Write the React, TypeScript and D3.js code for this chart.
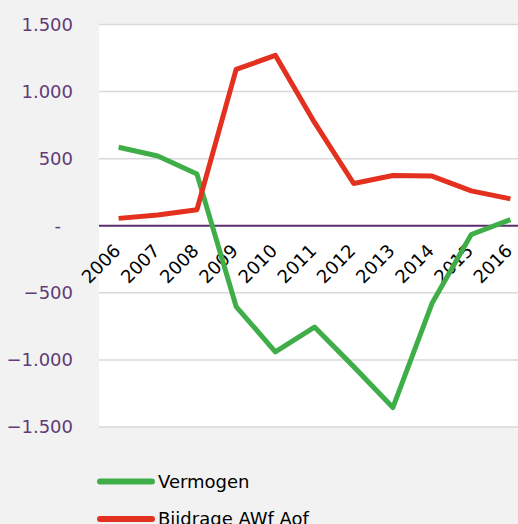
import * as d3 from 'd3';

const years = ['2006', '2007', '2008', '2009', '2010', '2011', '2012', '2013', '2014', '2015', '2016'];
const vermogen = [585, 520, 385, -602, -940, -755, -1050, -1355, -578, -65, 45];
const bijdrage = [55, 80, 120, 1165, 1270, 770, 315, 375, 370, 260, 200];
const yTicks = [-1500, -1000, -500, 0, 500, 1000, 1500];
const seriesNames = ['Vermogen', 'Bijdrage AWf Aof'];
const seriesColors = ['#3fae49', '#e3301f'];

const W = 518;
const H = 524;
const plotLeft = 99;
const plotRight = 530;
const plotTop = 24.5;
const plotBottom = 427;
const font = "'DejaVu Sans', Verdana, sans-serif";

const fmt = (v: number) => (v === 0 ? '-' : d3.format(',')(v).replace(/,/g, '.'));

export default function App() {
  const x = d3.scalePoint<string>().domain(years).range([plotLeft, plotRight]).padding(0.5);
  const y = d3.scaleLinear().domain([-1500, 1500]).range([plotBottom, plotTop]);

  const line = d3
    .line<number>()
    .x((_, i) => x(years[i]) as number)
    .y((d) => y(d));

  const series = [vermogen, bijdrage];

  return (
    <svg
      width={W}
      height={H}
      style={{ position: 'absolute', left: 0, top: 0, background: '#f2f2f2', fontFamily: font }}
    >
      <rect x={plotLeft} y={plotTop} width={plotRight - plotLeft} height={plotBottom - plotTop} fill="#ffffff" />
      {yTicks.map((t) => (
        <g key={t}>
          {t !== 0 && (
            <line x1={plotLeft} x2={plotRight} y1={y(t)} y2={y(t)} stroke="#d9d9d9" strokeWidth={1.5} />
          )}
          <text
            x={t === 0 ? 61 : 73}
            y={y(t)}
            dy="0.36em"
            textAnchor="end"
            fill="#5f3b78"
            fontSize={18}
          >
            {fmt(t)}
          </text>
        </g>
      ))}
      <line x1={plotLeft} x2={plotRight} y1={y(0)} y2={y(0)} stroke="#5b2d6e" strokeWidth={2} />
      {years.map((yr) => (
        <text
          key={yr}
          transform={`translate(${(x(yr) as number) + 3},${252}) rotate(-45)`}
          textAnchor="end"
          fill="#000000"
          fontSize={18}
        >
          {yr}
        </text>
      ))}
      {series.map((s, i) => (
        <path
          key={i}
          d={line(s) || ''}
          fill="none"
          stroke={seriesColors[i]}
          strokeWidth={5}
          strokeLinejoin="round"
          strokeLinecap="butt"
        />
      ))}
      {seriesNames.map((name, i) => (
        <g key={name} transform={`translate(0,${481.5 + i * 37.5})`}>
          <line x1={100} x2={152} y1={0} y2={0} stroke={seriesColors[i]} strokeWidth={6} strokeLinecap="round" />
          <text x={158} y={0} dy="0.36em" fill="#000000" fontSize={18}>
            {name}
          </text>
        </g>
      ))}
    </svg>
  );
}
